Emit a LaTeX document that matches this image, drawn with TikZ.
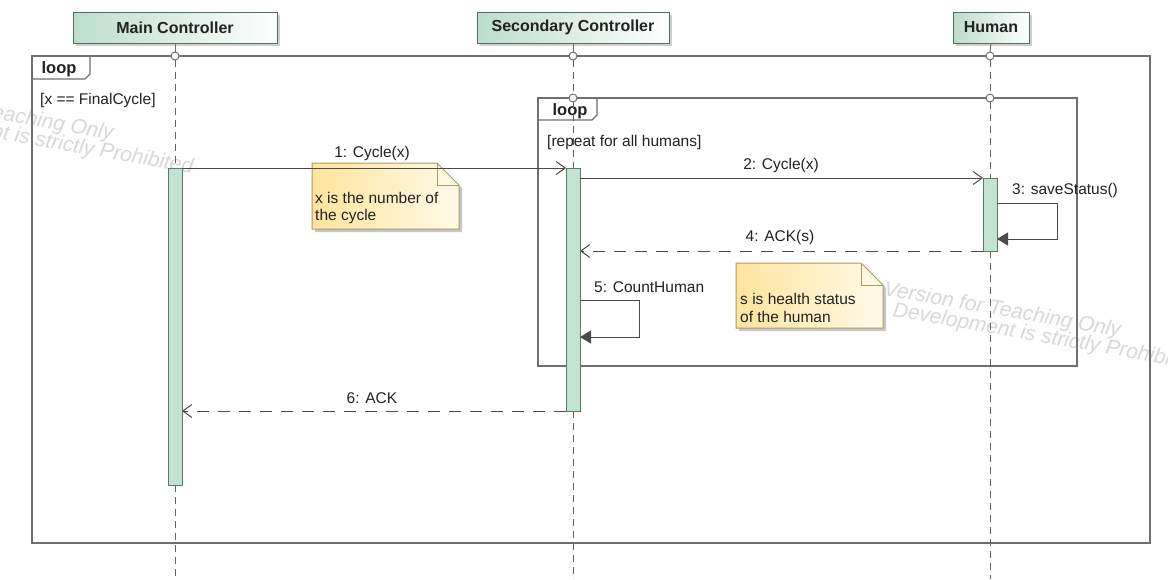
\documentclass[tikz,border=0pt]{standalone}
\usepackage{fontspec}
\setmainfont{Liberation Sans}
\usetikzlibrary{arrows.meta,calc,shadows}

\definecolor{headfill}{HTML}{BCDDCC}
\definecolor{headline}{HTML}{4E7060}
\definecolor{actfill}{HTML}{C2E3D2}
\definecolor{actline}{HTML}{577A69}
\definecolor{lifecol}{HTML}{4C6B62}
\definecolor{framegray}{HTML}{6F6F6F}
\definecolor{msgline}{HTML}{4A4A4A}
\definecolor{notefillA}{HTML}{FFE49E}
\definecolor{notefillB}{HTML}{FFFAE8}
\definecolor{noteline}{HTML}{AA9B62}
\definecolor{wmark}{HTML}{D8D8D8}
\definecolor{txt}{HTML}{222222}

\begin{document}
\begin{tikzpicture}[x=1pt,y=-1pt,
  lbl/.style={font=\fontsize{15.5}{17}\selectfont, text=txt, inner sep=0},
  tablbl/.style={font=\fontsize{16.5}{19}\selectfont\bfseries, text=txt, inner sep=0},
  head/.style={draw=headline, line width=1pt, left color=headfill, right color=white,
    font=\fontsize{16}{19}\selectfont\bfseries, text=txt, minimum height=31, inner sep=0, outer sep=0,
    drop shadow={shadow xshift=3pt, shadow yshift=-3pt, fill=black!30, opacity=0.6}},
  actbar/.style={draw=actline, fill=actfill, line width=1pt, minimum width=14, inner sep=0, outer sep=0},
  umlframe/.style={draw=framegray, line width=1.4pt, inner sep=0, outer sep=0, anchor=north west},
  tabline/.style={draw=framegray, line width=1.2pt},
  gate/.style={circle, draw=framegray, fill=white, line width=1pt, minimum size=8, inner sep=0, outer sep=0},
  lifesolid/.style={draw=framegray, line width=1pt},
  life/.style={draw=lifecol, line width=1pt, dash pattern=on 7pt off 5pt},
  msg/.style={draw=msgline, line width=1pt, -{Straight Barb[length=9pt,width=13pt,line width=1pt]}},
  reply/.style={msg, dash pattern=on 12pt off 9pt},
  selfmsg/.style={draw=msgline, line width=1pt, -{Triangle[length=11pt,width=13pt]}, fill=none},
  notebox/.style={draw=none, inner sep=0, outer sep=0},
  notetxt/.style={font=\fontsize{15.5}{17.5}\selectfont, text=txt, inner sep=0, align=left, anchor=west},
  wm/.style={font=\fontsize{21}{24}\selectfont\itshape, text=wmark, inner sep=0, anchor=base west, rotate=-10}
]
\useasboundingbox (0,0) rectangle (1168,579);
\fill[white] (0,0) rectangle (1168,579);

% faint licence watermark
\begin{scope}
  \clip (0,0) rectangle (1168,579);
  \node[wm] (wm1a) at (-221,81) {Academic Version for Teaching Only};
  \node[wm] (wm1b) at (-230,99) {Commercial Development is strictly Prohibited};
  \node[wm] (wm2a) at (883,295) {Version for Teaching Only};
  \node[wm] (wm2b) at (892,316) {Development is strictly Prohibited};
\end{scope}

% combined fragments
\node[umlframe, minimum width=1118, minimum height=487] (outer) at (32,56) {};
\draw[tabline] ($(outer.north west)+(0,23)$) -- ++(53,0) -- ++(5,-5) -- ++(0,-18);
\node[tablbl] (outerop) at (59,69) {loop};
\node[lbl, anchor=west] (outerguard) at (40,100) {[x == FinalCycle]};

\node[umlframe, minimum width=539, minimum height=268] (inner) at (538,98) {};
\draw[tabline] ($(inner.north west)+(0,22)$) -- ++(54,0) -- ++(5,-5) -- ++(0,-17);
\node[tablbl] (innerop) at (570,111) {loop};
\node[lbl, anchor=west] (innerguard) at (547,142) {[repeat for all humans]};

% lifeline heads
\node[head, minimum width=204] (hMain) at (175,27.5) {Main Controller};
\node[head, minimum width=192] (hSec) at (573,27.5) {Secondary Controller};
\node[head, minimum width=76] (hHum) at (991,27.5) {Human};

% gates on the fragment borders
\node[gate] (go1) at (175,56) {};
\node[gate] (go2) at (573,56) {};
\node[gate] (go3) at (990,56) {};
\node[gate] (gi2) at (573,98) {};
\node[gate] (gi3) at (990,98) {};

% activations
\node[actbar, minimum height=317] (a1) at (175,326.5) {};
\node[actbar, minimum height=243] (a2) at (573,289.5) {};
\node[actbar, minimum height=73] (a3) at (990,214.5) {};

% lifeline ends
\coordinate (e1) at (175,579);
\coordinate (e2) at (573,579);
\coordinate (e3) at (990,579);

% lifelines
\draw[lifesolid] (hMain.south) -- (go1.north);
\draw[life] (go1.south) -- (a1.north);
\draw[life] (a1.south) -- (e1);
\draw[lifesolid] (hSec.south) -- (go2.north);
\draw[life] (go2.south) -- (gi2.north);
\draw[life] (gi2.south) -- (a2.north);
\draw[life] (a2.south) -- (e2);
\draw[lifesolid] (hHum.south) -- (go3.north);
\draw[life] (go3.south) -- (gi3.north);
\draw[life] (gi3.south) -- (a3.north);
\draw[life] (a3.south) -- (e3);
% redraw activations above the lifelines
\node[actbar, minimum height=317] at (175,326.5) {};
\node[actbar, minimum height=243] at (573,289.5) {};
\node[actbar, minimum height=73] at (990,214.5) {};

% notes
\node[notebox, minimum width=147, minimum height=66] (n1) at (385.5,196) {};
\node[notebox, minimum width=147, minimum height=65] (n2) at (809.5,295.5) {};
\foreach \n in {n1,n2} {
  \fill[black!22] ($(\n.north west)+(3,3)$) -- ($(\n.north east)+(-19,3)$) -- ($(\n.north east)+(3,25)$)
     -- ($(\n.south east)+(3,3)$) -- ($(\n.south west)+(3,3)$) -- cycle;
  \shadedraw[left color=notefillA, right color=notefillB, draw=noteline, line width=1pt]
     (\n.north west) -- ($(\n.north east)+(-22,0)$) -- ($(\n.north east)+(0,22)$)
     -- (\n.south east) -- (\n.south west) -- cycle;
  \draw[noteline, line width=1pt] ($(\n.north east)+(-22,0)$) -- ($(\n.north east)+(-22,22)$) -- ($(\n.north east)+(0,22)$);
}
\node[notetxt] (n1t) at (315,208) {x is the number of\\the cycle};
\node[notetxt] (n2t) at (740,308) {s is health status\\of the human};

% messages
\draw[msg] (a1.north east) -- (a2.north west);
\node[lbl] (m1) at (372,153) {1: Cycle(x)};

\draw[msg] (a3.north west -| a2.east) -- (a3.north west);
\node[lbl] (m2) at (781,165) {2: Cycle(x)};

\coordinate (s3top) at (1057,203);
\coordinate (s3bot) at (1057,239);
\draw[selfmsg] (a3.east |- s3top) -- (s3top) -- (s3bot) -- (a3.east |- s3bot);
\node[lbl, anchor=west] (m3) at (1012,190) {3: saveStatus()};

\draw[reply] (a3.south west) -- (a3.south west -| a2.east);
\node[lbl] (m4) at (780,237) {4: ACK(s)};

\coordinate (s5top) at (639,300);
\coordinate (s5bot) at (639,337);
\draw[selfmsg] (a2.east |- s5top) -- (s5top) -- (s5bot) -- (a2.east |- s5bot);
\node[lbl, anchor=west] (m5) at (594,287) {5: CountHuman};

\draw[reply] (a2.south west) -- (a2.south west -| a1.east);
\node[lbl] (m6) at (372,398) {6: ACK};
\end{tikzpicture}
\end{document}
